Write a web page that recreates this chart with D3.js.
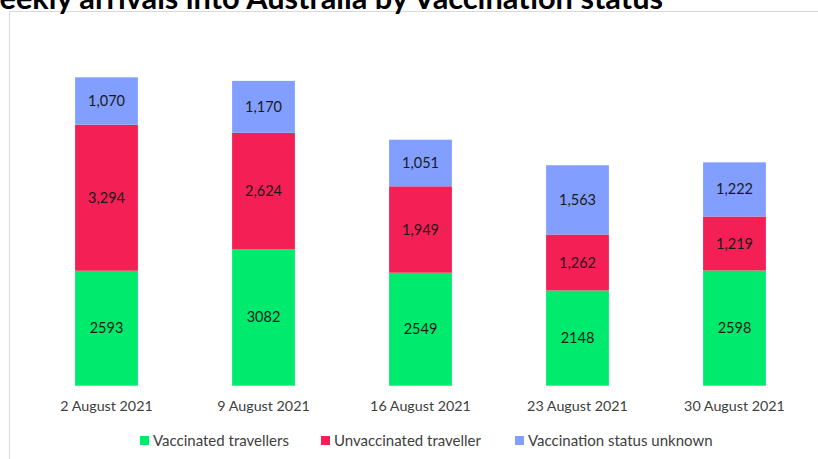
<!DOCTYPE html>
<html><head><meta charset="utf-8">
<script src="https://cdn.jsdelivr.net/npm/d3@7"></script>
<style>html,body{margin:0;padding:0;background:#fff;overflow:hidden}</style>
</head><body>
<svg id="c" width="818" height="459"></svg>
<script>
const categories = ["2 August 2021","9 August 2021","16 August 2021","23 August 2021","30 August 2021"];
const seriesNames = ["Vaccinated travellers","Unvaccinated traveller","Vaccination status unknown"];
const vaccinated = [2593, 3082, 2549, 2148, 2598];
const unvaccinated = [3294, 2624, 1949, 1262, 1219];
const unknown = [1070, 1170, 1051, 1563, 1222];
const colors = ["#00EB6E", "#F41F55", "#829FFF"];
const titleText = "Weekly arrivals into Australia by Vaccination status";

const svg = d3.select("#c");
const font = "Lato, 'Open Sans', sans-serif";

// frame
svg.append("rect").attr("x", 9.5).attr("y", 11.5).attr("width", 830).attr("height", 470)
  .attr("fill", "#fff").attr("stroke", "#d9d9d9").attr("stroke-width", 1);

// title (clipped at top/left as in reference)
const t = svg.append("text").attr("font-family", font).attr("font-weight", 700)
  .attr("font-size", 24).attr("fill", "#000").attr("y", 9).attr("x", 0).text(titleText);
const full = t.node().getComputedTextLength();
const wW = t.node().getSubStringLength(0, 1);
const rest = full - wW;
const fs = 24 * 664 / rest;
t.attr("font-size", fs);
const w2 = t.node().getSubStringLength(0, 1);
t.attr("x", -w2 - 0.5);

const rows = categories.map((c, i) => ({cat: c, v0: vaccinated[i], v1: unvaccinated[i], v2: unknown[i]}));
const stack = d3.stack().keys(["v0","v1","v2"])(rows);

const x = d3.scaleBand().domain(categories).range([28, 813]).paddingInner(0.6).paddingOuter(0.3);
const y = d3.scaleLinear().domain([0, 6957]).range([385.7, 77.3]);

const g = svg.append("g");
stack.forEach((s, si) => {
  g.selectAll(null).data(s).enter().append("rect")
    .attr("x", d => x(d.data.cat))
    .attr("width", x.bandwidth())
    .attr("y", d => y(d[1]))
    .attr("height", d => y(d[0]) - y(d[1]))
    .attr("fill", colors[si]);
});
const fmtComma = d3.format(",");
stack.forEach((s, si) => {
  g.selectAll(null).data(s).enter().append("text")
    .attr("x", d => x(d.data.cat) + x.bandwidth() / 2)
    .attr("y", d => (y(d[0]) + y(d[1])) / 2)
    .attr("dy", "0.35em")
    .attr("text-anchor", "middle")
    .attr("font-family", font).attr("font-size", 14.5).attr("fill", "#1a1a1a")
    .text(d => si === 0 ? String(d[1] - d[0]) : fmtComma(d[1] - d[0]));
});

// x axis
const xa = svg.append("g").attr("transform", "translate(0,385.7)")
  .call(d3.axisBottom(x).tickSize(0).tickPadding(15));
xa.select(".domain").remove();
xa.selectAll("text").attr("font-family", font).attr("font-size", 14.3).attr("fill", "#404040");

// legend
const legX = [140, 321, 515];
const lg = svg.append("g");
seriesNames.forEach((n, i) => {
  lg.append("rect").attr("x", legX[i]).attr("y", 436).attr("width", 9).attr("height", 9).attr("fill", colors[i]);
  lg.append("text").attr("x", legX[i] + 13).attr("y", 441).attr("dy", "0.35em")
    .attr("font-family", font).attr("font-size", 15).attr("fill", "#404040").text(n);
});
</script>
</body></html>
